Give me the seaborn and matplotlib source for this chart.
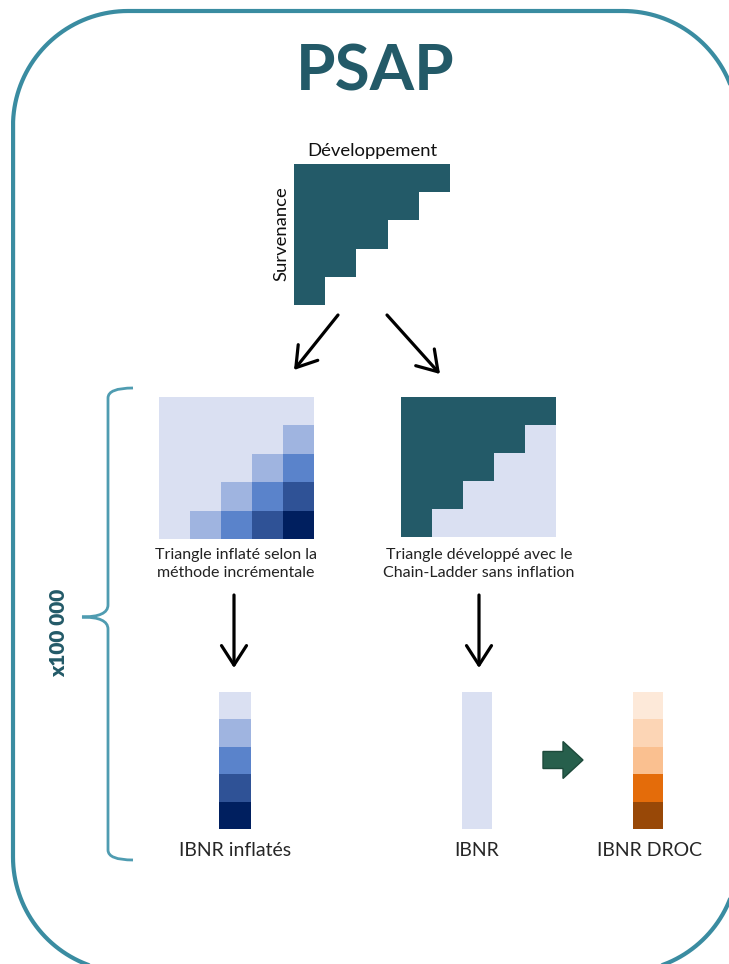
import numpy as np
import matplotlib
matplotlib.use("Agg")
import matplotlib.pyplot as plt
import matplotlib.patches as mpatches
from matplotlib.path import Path
from matplotlib.colors import ListedColormap
import seaborn as sns

# ---------------------------------------------------------
# data: triangles and IBNR columns (levels per cell)
# ---------------------------------------------------------
# 1 = known cell of the development triangle, 0 = empty
known_triangle = [
    [1, 1, 1, 1, 1],
    [1, 1, 1, 1, 0],
    [1, 1, 1, 0, 0],
    [1, 1, 0, 0, 0],
    [1, 0, 0, 0, 0],
]

# inflation level of each cell (0 = none ... 4 = strongest)
inflated_levels = [
    [0, 0, 0, 0, 0],
    [0, 0, 0, 0, 1],
    [0, 0, 0, 1, 2],
    [0, 0, 1, 2, 3],
    [0, 1, 2, 3, 4],
]

ibnr_inflated_levels = [0, 1, 2, 3, 4]
ibnr_levels = [0]
ibnr_droc_levels = [0, 1, 2, 3, 4]

title = "PSAP"
caption_left = "Triangle inflaté selon la\nméthode incrémentale"
caption_right = "Triangle développé avec le\nChain-Ladder sans inflation"
bottom_labels = ["IBNR inflatés", "IBNR", "IBNR DROC"]
scale_label = "x100 000"

# colours
teal_dark = "#235a68"
teal_line = "#3a8ca1"
brace_col = "#4f9cb1"
lavender = "#dae0f2"
blues = [lavender, "#9fb4e0", "#5a83cb", "#2f5296", "#001f5f"]
oranges = ["#fde9d9", "#fcd5b5", "#fac090", "#e46c0a", "#984807"]
green = "#275f4c"

W, H = 729, 964
plt.rcParams["font.family"] = ["Lato", "DejaVu Sans"]

fig = plt.figure(figsize=(W / 100, H / 100), dpi=100)
ax = fig.add_axes([0, 0, 1, 1])
ax.set_xlim(0, W)
ax.set_ylim(H, 0)
ax.axis("off")


def pixel_axes(x0, y0, x1, y1):
    a = fig.add_axes([x0 / W, 1 - y1 / H, (x1 - x0) / W, (y1 - y0) / H])
    a.axis("off")
    return a


def draw_grid(values, box, colors, mask=None):
    a = pixel_axes(*box)
    arr = np.array(values, dtype=float)
    if arr.ndim == 1:
        arr = arr.reshape(-1, 1)
    sns.heatmap(arr, ax=a, cmap=ListedColormap(colors), vmin=-0.5,
                vmax=len(colors) - 0.5, cbar=False, mask=mask,
                xticklabels=False, yticklabels=False)
    a.axis("off")
    return a


def rounded_rect(x0, y0, x1, y1, r):
    # corners in pixel coords (y grows downward)
    pts = []
    for cx, cy, a0 in [(x1 - r, y0 + r, -90), (x1 - r, y1 - r, 0),
                       (x0 + r, y1 - r, 90), (x0 + r, y0 + r, 180)]:
        t = np.radians(np.linspace(a0, a0 + 90, 40))
        pts += list(zip(cx + r * np.cos(t), cy + r * np.sin(t)))
    pts.append(pts[0])
    return np.array(pts)


# ---------------------------------------------------------
# outer rounded frame
# ---------------------------------------------------------
fr = rounded_rect(13, 11, 738, 972, 115)
ax.plot(fr[:, 0], fr[:, 1], color=teal_line, lw=3, solid_capstyle="round")

ax.text(375, 72, title, ha="center", va="center", fontsize=46,
        fontweight="bold", color=teal_dark)

# ---------------------------------------------------------
# top triangle
# ---------------------------------------------------------
kt = np.array(known_triangle)
draw_grid(kt, (294, 164, 450, 305), [teal_dark, teal_dark], mask=(kt == 0))
ax.text(372, 151, "Développement", ha="center", va="center",
        fontsize=13.3, color="#111111")
ax.text(281, 234, "Survenance", ha="center", va="center", rotation=90,
        fontsize=13.3, color="#111111")

# arrows from the top triangle
arrow_kw = dict(arrowstyle="->,head_length=0.7,head_width=0.45",
                lw=2.3, color="black", mutation_scale=20,
                shrinkA=0, shrinkB=0)
ax.annotate("", xy=(294, 370), xytext=(338, 315), arrowprops=arrow_kw)
ax.annotate("", xy=(440, 374), xytext=(387, 315), arrowprops=arrow_kw)

# ---------------------------------------------------------
# middle triangles
# ---------------------------------------------------------
draw_grid(inflated_levels, (159, 397, 314, 539), blues)
draw_grid(kt, (401, 397, 556, 537), [lavender, teal_dark])

ax.text(236, 564, caption_left, ha="center", va="center", fontsize=11.5,
        color="#222222", linespacing=1.4)
ax.text(479, 564, caption_right, ha="center", va="center", fontsize=11.5,
        color="#222222", linespacing=1.4)

ax.annotate("", xy=(234, 668), xytext=(234, 595), arrowprops=arrow_kw)
ax.annotate("", xy=(479, 668), xytext=(479, 595), arrowprops=arrow_kw)

# ---------------------------------------------------------
# IBNR columns
# ---------------------------------------------------------
draw_grid(ibnr_inflated_levels, (219, 692, 251, 829), blues)
draw_grid(ibnr_levels, (462, 692, 492, 829), [lavender])
draw_grid(ibnr_droc_levels, (633, 692, 663, 829), oranges)

green_arrow = mpatches.FancyArrow(543, 760, 40, 0, width=17, head_width=37,
                                  head_length=20, length_includes_head=True,
                                  facecolor=green, edgecolor="#1d4a3b", lw=1)
ax.add_patch(green_arrow)

for x, lab in zip([235, 477, 650], bottom_labels):
    ax.text(x, 851, lab, ha="center", va="center", fontsize=14,
            color="#262626")

# ---------------------------------------------------------
# curly brace + multiplier
# ---------------------------------------------------------
verts = [(133, 388), (108, 388), (108, 398),
         (108, 605),
         (108, 617), (82, 617),
         (108, 617), (108, 629),
         (108, 850),
         (108, 860), (133, 860)]
codes = [Path.MOVETO, Path.CURVE3, Path.CURVE3,
         Path.LINETO,
         Path.CURVE3, Path.CURVE3,
         Path.CURVE3, Path.CURVE3,
         Path.LINETO,
         Path.CURVE3, Path.CURVE3]
ax.add_patch(mpatches.PathPatch(Path(verts, codes), fill=False,
                                edgecolor=brace_col, lw=2))
ax.text(59, 633, scale_label, ha="center", va="center", rotation=90,
        fontsize=15, fontweight="heavy", color=teal_dark)

fig.savefig("out.png", dpi=100)
